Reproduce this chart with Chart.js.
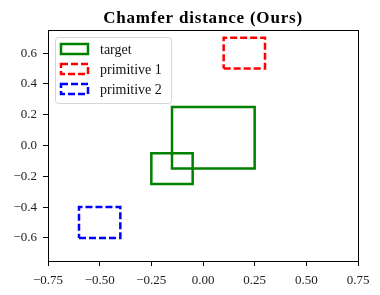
<!DOCTYPE html>
<html>
<head>
<meta charset="utf-8">
<script src="https://cdn.jsdelivr.net/npm/chart.js@4/dist/chart.umd.min.js"></script>
<style>
  body { margin: 0; background: #fff; }
  #chart { display: block; }
</style>
</head>
<body>
<canvas id="chart" width="380" height="295"></canvas>
<script>
// rectangles as [x0, y0, x1, y1]
const targetRects = [[-0.25, -0.25, -0.05, -0.05], [-0.15, -0.15, 0.25, 0.25]];
const prim1Rects = [[0.1, 0.5, 0.3, 0.7]];
const prim2Rects = [[-0.6, -0.6, -0.4, -0.4]];
const labels = ['target', 'primitive 1', 'primitive 2'];
const xTicks = [-0.75, -0.5, -0.25, 0, 0.25, 0.5, 0.75];
const yTicks = [-0.6, -0.4, -0.2, 0, 0.2, 0.4, 0.6];

const serif = "'Liberation Serif', 'DejaVu Serif', serif";

// Turn rectangles into a closed outline, with gaps between rectangles
function outline(rects) {
    const pts = [];
    rects.forEach((r, i) => {
        if (i > 0) pts.push({ x: null, y: null });
        pts.push({ x: r[0], y: r[1] }, { x: r[2], y: r[1] }, { x: r[2], y: r[3] },
                 { x: r[0], y: r[3] }, { x: r[0], y: r[1] });
    });
    return pts;
}

function fmt(v, d) {
    return v.toFixed(d).replace('-', '\u2212');
}

const frameAndLegend = {
    id: 'frameAndLegend',
    afterDatasetsDraw(chart) {
        const { ctx, chartArea: a } = chart;
        ctx.save();
        // axes frame
        ctx.strokeStyle = '#000';
        ctx.lineWidth = 1;
        ctx.setLineDash([]);
        ctx.strokeRect(a.left + 0.5, a.top + 0.5, a.right - a.left, a.bottom - a.top);

        // title centred on plot area
        ctx.fillStyle = '#000';
        ctx.font = 'bold 17px ' + serif;
        ctx.letterSpacing = '0.8px';
        ctx.textAlign = 'center';
        ctx.textBaseline = 'alphabetic';
        ctx.fillText('Chamfer distance (Ours)', (a.left + a.right) / 2, 23);
        ctx.letterSpacing = '0px';

        // legend box
        const bx = 55.5, by = 37.5, bw = 116, bh = 66;
        ctx.beginPath();
        ctx.roundRect(bx, by, bw, bh, 3);
        ctx.fillStyle = 'rgba(255,255,255,0.8)';
        ctx.fill();
        ctx.strokeStyle = '#d6d6d6';
        ctx.stroke();

        ctx.font = '14px ' + serif;
        ctx.textAlign = 'left';
        ctx.textBaseline = 'middle';
        chart.data.datasets.forEach((ds, i) => {
            const cy = 49 + i * 20;
            ctx.strokeStyle = ds.borderColor;
            ctx.lineWidth = ds.borderWidth;
            ctx.lineJoin = 'miter';
            ctx.setLineDash(ds.borderDash || []);
            ctx.strokeRect(61, cy - 5, 27, 10);
            ctx.setLineDash([]);
            ctx.fillStyle = '#111';
            ctx.fillText(ds.label, 100, cy + 1);
        });
        ctx.restore();
    }
};

const dash = [7, 3];

new Chart(document.getElementById('chart'), {
    type: 'scatter',
    data: {
        datasets: [
            { label: labels[0], data: outline(targetRects), borderColor: '#008000', borderWidth: 2.5, borderCapStyle: 'square' },
            { label: labels[1], data: outline(prim1Rects), borderColor: '#ff0000', borderWidth: 2.5, borderDash: dash },
            { label: labels[2], data: outline(prim2Rects), borderColor: '#0000ff', borderWidth: 2.5, borderDash: dash }
        ].map(d => Object.assign(d, {
            showLine: true, spanGaps: false, pointRadius: 0, pointHoverRadius: 0,
            borderJoinStyle: 'miter', tension: 0, fill: false
        }))
    },
    options: {
        responsive: false,
        animation: false,
        events: [],
        layout: { padding: { top: 30, right: 22, left: 0, bottom: 0 } },
        plugins: { legend: { display: false }, title: { display: false }, tooltip: { enabled: false } },
        scales: {
            x: {
                type: 'linear', min: -0.75, max: 0.75,
                afterBuildTicks: s => { s.ticks = xTicks.map(v => ({ value: v })); },
                afterFit: s => { s.height = 34; },
                grid: { drawOnChartArea: false, tickLength: 5, color: '#000', tickColor: '#000' },
                border: { display: false },
                ticks: {
                    maxRotation: 0, autoSkip: false, padding: 7, color: '#222',
                    font: { family: serif, size: 13 },
                    callback: v => fmt(v, 2)
                }
            },
            y: {
                type: 'linear', min: -0.75, max: 0.75,
                afterBuildTicks: s => { s.ticks = yTicks.map(v => ({ value: v })); },
                afterFit: s => { s.width = 48; },
                grid: { drawOnChartArea: false, tickLength: 5, color: '#000', tickColor: '#000' },
                border: { display: false },
                ticks: {
                    autoSkip: false, padding: 6, color: '#222',
                    font: { family: serif, size: 13 },
                    callback: v => fmt(v, 1)
                }
            }
        }
    },
    plugins: [frameAndLegend]
});
</script>
</body>
</html>
